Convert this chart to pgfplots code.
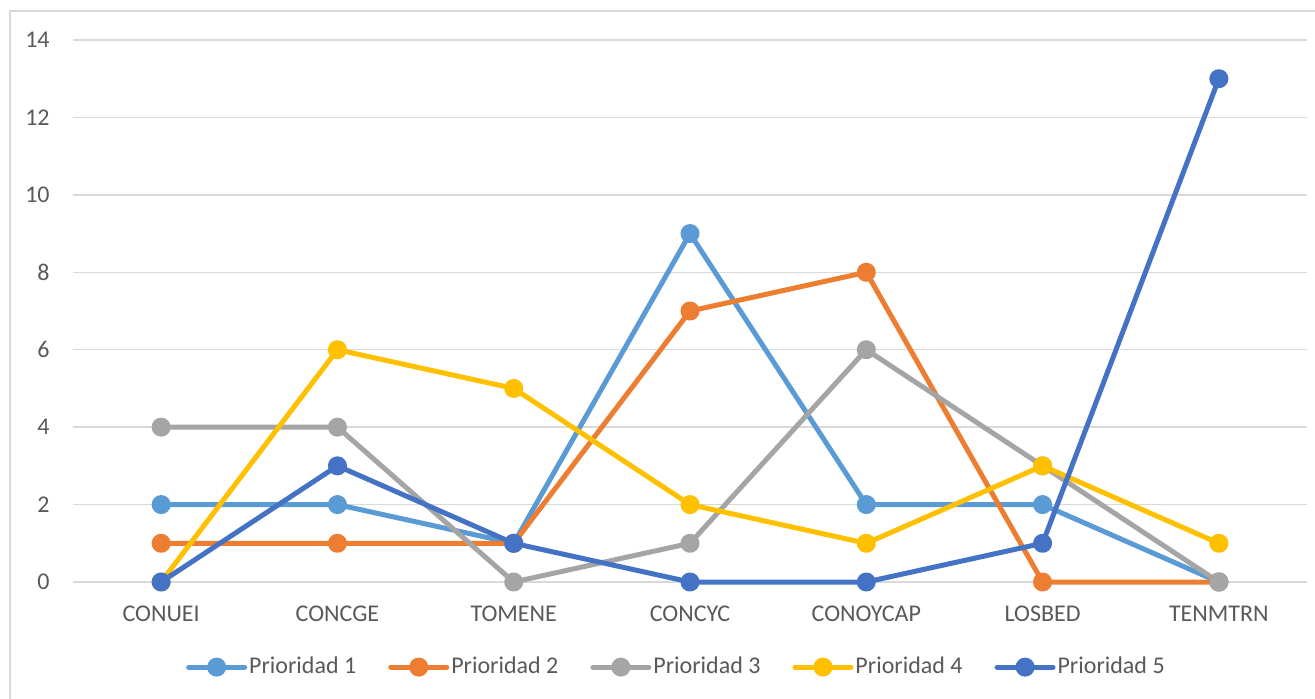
\documentclass[border=0pt]{standalone}
\usepackage{fontspec}
\setmainfont{Carlito}
\usepackage{pgfplots}
\pgfplotsset{compat=1.18}
\definecolor{pa}{HTML}{5B9BD5}
\definecolor{pb}{HTML}{ED7D31}
\definecolor{pc}{HTML}{A5A5A5}
\definecolor{pd}{HTML}{FFC000}
\definecolor{pe}{HTML}{4472C4}
\definecolor{txt}{HTML}{595959}
\definecolor{grd}{HTML}{D9D9D9}
\begin{document}
\begin{tikzpicture}
\useasboundingbox (-36.5pt,-58pt) rectangle (621pt,291pt);
\draw[grd, line width=0.75pt] (-31.5pt,-80pt) -- (-31.5pt,285.5pt) -- (660pt,285.5pt);
\begin{axis}[
  at={(0,0)}, anchor=south west,
  width=617pt, height=271pt, scale only axis,
  xmin=-0.5, xmax=6.5, ymin=0, ymax=14,
  axis line style={draw=none},
  major tick length=0pt,
  xtick={0,1,2,3,4,5,6},
  xticklabels={CONUEI,CONCGE,TOMENE,CONCYC,CONOYCAP,LOSBED,TENMTRN},
  ytick={0,2,4,6,8,10,12,14},
  ymajorgrids,
  major grid style={grd, line width=0.75pt},
  /pgf/number format/assume math mode=true,
  tick label style={font=\fontsize{12}{14}\selectfont, text=txt},
  yticklabel style={inner sep=0pt, anchor=east, xshift=-11.5pt},
  xticklabel style={inner sep=0pt, anchor=north, yshift=-12pt},
  every axis plot/.append style={line width=2.5pt, line join=round, line cap=round, mark=*, mark size=3.5pt},
  legend columns=5,
  legend style={draw=none, fill=none, at={(0.489,-0.157)}, anchor=center,
    font=\fontsize{12}{14}\selectfont, text=txt,
    /tikz/every even column/.append style={column sep=15pt},
    nodes={inner sep=1pt}},
  legend image code/.code={\draw[#1, mark repeat=2, mark phase=2] plot coordinates {(0pt,0pt) (14pt,0pt) (28pt,0pt)};},
  clip=false,
]
\addplot[pa, mark options={fill=pa, draw=pa}] coordinates {(0,2) (1,2) (2,1) (3,9) (4,2) (5,2) (6,0)};
\addlegendentry{Prioridad 1}
\addplot[pb, mark options={fill=pb, draw=pb}] coordinates {(0,1) (1,1) (2,1) (3,7) (4,8) (5,0) (6,0)};
\addlegendentry{Prioridad 2}
\addplot[pc, mark options={fill=pc, draw=pc}] coordinates {(0,4) (1,4) (2,0) (3,1) (4,6) (5,3) (6,0)};
\addlegendentry{Prioridad 3}
\addplot[pd, mark options={fill=pd, draw=pd}] coordinates {(0,0) (1,6) (2,5) (3,2) (4,1) (5,3) (6,1)};
\addlegendentry{Prioridad 4}
\addplot[pe, mark options={fill=pe, draw=pe}] coordinates {(0,0) (1,3) (2,1) (3,0) (4,0) (5,1) (6,13)};
\addlegendentry{Prioridad 5}
\end{axis}
\end{tikzpicture}
\end{document}
